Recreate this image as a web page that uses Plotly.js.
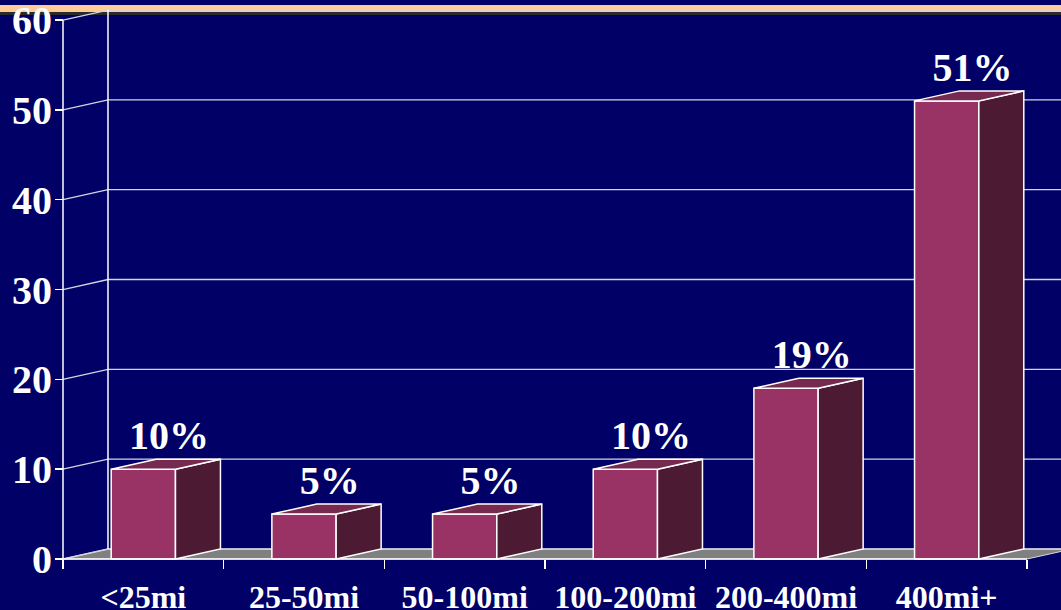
<!DOCTYPE html>
<html>
<head>
<meta charset="utf-8">
<script src="https://cdn.plot.ly/plotly-3.0.1.min.js"></script>
<style>html,body{margin:0;padding:0;background:#000066;}#chart{width:1061px;height:610px;}</style>
</head>
<body>
<div id="chart"></div>
<script>
// ---- data ----
var categories = ["<25mi", "25-50mi", "50-100mi", "100-200mi", "200-400mi", "400mi+"];
var values = [10, 5, 5, 10, 19, 51];
var valueLabels = ["10%", "5%", "5%", "10%", "19%", "51%"];
var yTicks = [0, 10, 20, 30, 40, 50, 60];

// ---- 3D look (in axis units) ----
var DX = 0.28;      // depth offset along x (category units)
var DY = 1.113;     // depth offset along y (value units)
var W = 0.4;        // bar front width (category units)
var XMIN = -0.51867, XMAX = 5.7115;
var YMIN = -0.334, YMAX = 62.23;
var nCat = categories.length;
var leftEdge = -0.5, rightEdge = nCat - 0.5;

var fam = "Liberation Serif, 'Times New Roman', serif";

// floor
var floorTrace = {
  x: [leftEdge, rightEdge, rightEdge + DX, leftEdge + DX, leftEdge],
  y: [0, 0, DY, DY, 0],
  type: "scatter", mode: "lines", fill: "toself", fillcolor: "#808080",
  line: {color: "#d8d8d8", width: 1}, hoverinfo: "skip", showlegend: false
};

// grid lines (left wall diagonal + back wall horizontal)
var gx = [], gy = [];
yTicks.forEach(function (v) {
  gx.push(leftEdge, leftEdge + DX, XMAX + 1, null);
  gy.push(v, v + DY, v + DY, null);
});
var gridTrace = {x: gx, y: gy, type: "scatter", mode: "lines",
  line: {color: "#d4d4e4", width: 1.3}, hoverinfo: "skip", showlegend: false};

// back-wall left vertical edge and front axis line
var yTop = yTicks[yTicks.length - 1];
var wallTrace = {
  x: [leftEdge + DX, leftEdge + DX, null, leftEdge, leftEdge],
  y: [DY, yTop + DY, null, 0, yTop],
  type: "scatter", mode: "lines", line: {color: "#ffffff", width: 1.5},
  hoverinfo: "skip", showlegend: false
};

// bars
var fx = [], fy = [], sx = [], sy = [], tx = [], ty = [];
values.forEach(function (v, i) {
  var a = i - W / 2, b = i + W / 2;
  fx.push(a, b, b, a, a, null); fy.push(0, 0, v, v, 0, null);
  sx.push(b, b + DX, b + DX, b, b, null); sy.push(0, DY, v + DY, v, 0, null);
  tx.push(a, b, b + DX, a + DX, a, null); ty.push(v, v, v + DY, v + DY, v, null);
});
function face(x, y, c) {
  return {x: x, y: y, type: "scatter", mode: "lines", fill: "toself", fillcolor: c,
    line: {color: "#ffffff", width: 1.5}, hoverinfo: "skip", showlegend: false};
}
var frontFace = face(fx, fy, "#993366");
var sideFace = face(sx, sy, "#4d1a33");
var topFace = face(tx, ty, "#772a50");

// front x axis line (on tick axis)
var xLineTrace = {x: [leftEdge, rightEdge], y: [0, 0], xaxis: "x2", yaxis: "y", type: "scatter", mode: "lines",
  line: {color: "#ffffff", width: 1.5}, hoverinfo: "skip", showlegend: false};

// value labels
var labelTrace = {
  x: values.map(function (v, i) { return i + DX / 2 + 0.02; }),
  y: values.map(function (v) { return v + DY; }),
  text: valueLabels, type: "scatter", mode: "text", textposition: "top center",
  textfont: {family: fam, size: 40, color: "#ffffff", weight: "bold"},
  cliponaxis: false, hoverinfo: "skip", showlegend: false
};

var boundaries = [];
for (var k = 0; k <= nCat; k++) boundaries.push(k - 0.5);

var layout = {
  width: 1061, height: 610,
  margin: {l: 60, r: 0, t: 0, b: 48},
  paper_bgcolor: "#000066", plot_bgcolor: "#000066",
  showlegend: false,
  xaxis: {
    range: [XMIN, XMAX], anchor: "free", position: 3 / 562,
    tickmode: "array", tickvals: categories.map(function (c, i) { return i; }), ticktext: categories,
    ticks: "", showgrid: false, zeroline: false, showline: false,
    ticklabelstandoff: 16, ticklabeloverflow: "allow",
    tickfont: {family: fam, size: 32, color: "#ffffff", weight: "bold"}
  },
  xaxis2: {
    overlaying: "x", range: [XMIN, XMAX], anchor: "free", position: 3 / 562, side: "bottom",
    tickmode: "array", tickvals: boundaries, ticks: "outside", ticklen: 9, tickwidth: 1.5,
    tickcolor: "#ffffff", showticklabels: false, showgrid: false, zeroline: false, showline: false
  },
  yaxis: {
    range: [YMIN, YMAX], anchor: "free", position: 3 / 1001,
    tickmode: "array", tickvals: yTicks, ticks: "outside", ticklen: 8, tickwidth: 1.5,
    tickcolor: "#ffffff", showgrid: false, zeroline: false, showline: false,
    ticklabeloverflow: "allow", ticklabelstandoff: -5,
    tickfont: {family: fam, size: 40, color: "#ffffff", weight: "bold"}
  },
  shapes: [
    {type: "rect", xref: "paper", yref: "paper", x0: -0.07, x1: 1.01, y0: (562 - 12) / 562, y1: (562 - 5) / 562,
      fillcolor: "#ffcc99", line: {width: 0}, layer: "below"},
    {type: "rect", xref: "paper", yref: "paper", x0: -0.07, x1: 1.01, y0: (562 - 15) / 562, y1: (562 - 12) / 562,
      fillcolor: "#2a2a2a", line: {width: 0}, layer: "below"}
  ]
};

Plotly.newPlot("chart", [floorTrace, gridTrace, wallTrace, frontFace, sideFace, topFace, xLineTrace, labelTrace], layout,
  {displayModeBar: false, staticPlot: true});
</script>
</body>
</html>
